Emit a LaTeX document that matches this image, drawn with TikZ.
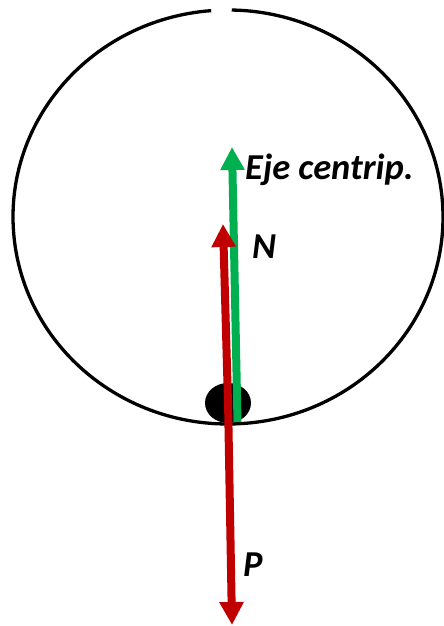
\documentclass[tikz,border=0pt]{standalone}
\usepackage{fontspec}
\setmainfont{Carlito}
\usetikzlibrary{arrows.meta,shapes.geometric}
\definecolor{vgreen}{HTML}{00B050}
\definecolor{vred}{HTML}{C00000}
\tikzset{
  force/.style={line width=8pt, -{Triangle[width=23pt,length=23pt]}},
  lbl/.style={font=\fontsize{36.5}{40}\selectfont\bfseries\itshape, inner sep=0pt, anchor=base west}
}
\begin{document}
\begin{tikzpicture}[x=1pt,y=1pt]
\useasboundingbox (0,0) rectangle (444,626);
\coordinate (c) at (228,409);
\draw[line width=3.3pt] (c) ++(94.5:215pt and 207pt) arc[start angle=94.5, end angle=449, x radius=215pt, y radius=207pt];
\node[fill=black, ellipse, minimum width=46pt, minimum height=40pt, inner sep=0pt] (ball) at (228,223) {};
\coordinate (g0) at (237.5,204);
\coordinate (g1) at (232,479);
\coordinate (n0) at (228,223);
\coordinate (n1) at (223,402);
\coordinate (p0) at (228,226);
\coordinate (p1) at (232,1);
\draw[force, vgreen] (g0) -- (g1);
\draw[force, vred] (n0) -- (n1);
\draw[force, vred] (p0) -- (p1);
\node[lbl] (eje) at (245,446) {Eje centrip.};
\node[lbl] (N) at (252,367) {N};
\node[lbl] (P) at (243,49) {P};
\end{tikzpicture}
\end{document}
